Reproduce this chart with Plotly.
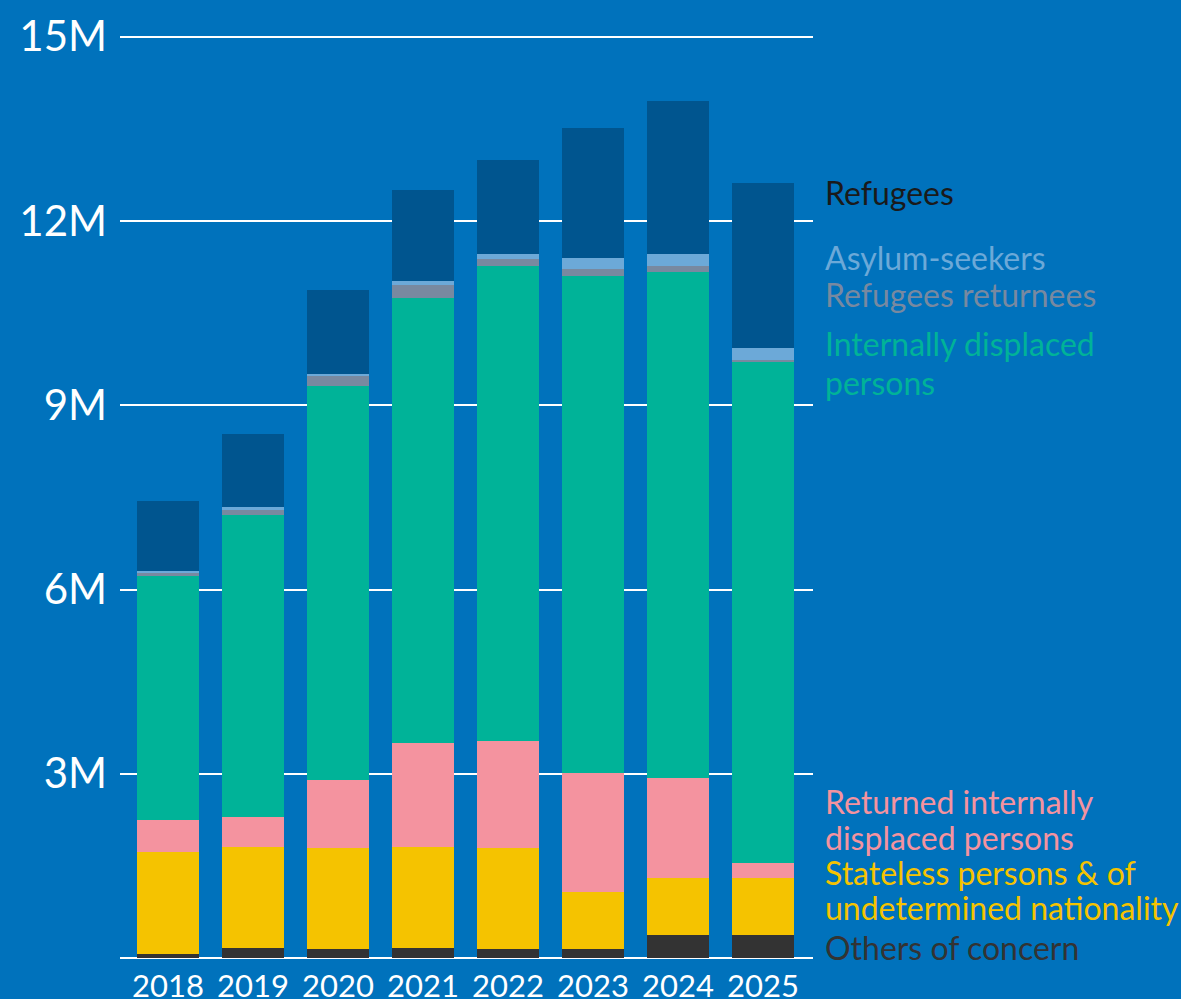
import plotly.graph_objects as go

years = ["2018", "2019", "2020", "2021", "2022", "2023", "2024", "2025"]

others = [0.06, 0.16, 0.14, 0.16, 0.14, 0.14, 0.37, 0.37]
stateless = [1.66, 1.64, 1.65, 1.64, 1.65, 0.93, 0.93, 0.93]
returned_idp = [0.53, 0.50, 1.11, 1.70, 1.75, 1.95, 1.63, 0.24]
idp = [3.97, 4.92, 6.42, 7.25, 7.73, 8.08, 8.24, 8.18]
refugee_returnees = [0.06, 0.07, 0.16, 0.21, 0.11, 0.12, 0.10, 0.01]
asylum_seekers = [0.015, 0.05, 0.03, 0.06, 0.08, 0.18, 0.19, 0.20]
refugees = [1.14, 1.20, 1.37, 1.48, 1.53, 2.11, 2.49, 2.69]

tick_vals = [0, 3, 6, 9, 12, 15]
tick_text = ["", "3M", "6M", "9M", "12M", "15M"]

series = [
    ("Others of concern", others, "#333333"),
    ("Stateless persons & of undetermined nationality", stateless, "#F5C300"),
    ("Returned internally displaced persons", returned_idp, "#F4939F"),
    ("Internally displaced persons", idp, "#00B398"),
    ("Refugees returnees", refugee_returnees, "#7889A0"),
    ("Asylum-seekers", asylum_seekers, "#6CA9D8"),
    ("Refugees", refugees, "#00558F"),
]

fig = go.Figure()
for name, vals, col in series:
    fig.add_trace(go.Bar(x=years, y=vals, name=name, marker=dict(color=col, line=dict(width=0)),
                         width=0.73))

# label lines: (text, y position in data units, colour)
label_lines = [
    ("Refugees", 12.47, "#1A1A1A"),
    ("Asylum-seekers", 11.40, "#6CA9D8"),
    ("Refugees returnees", 10.80, "#7889A0"),
    ("Internally displaced", 10.00, "#00B398"),
    ("persons", 9.37, "#00B398"),
    ("Returned internally", 2.545, "#F4939F"),
    ("displaced persons", 1.96, "#F4939F"),
    ("Stateless persons & of", 1.39, "#F5C300"),
    ("undetermined nationality", 0.825, "#F5C300"),
    ("Others of concern", 0.174, "#333333"),
]
for txt, yv, col in label_lines:
    fig.add_annotation(text=txt, x=1.016, xref="paper", y=yv, yref="y", xanchor="left",
                       yanchor="middle", showarrow=False, align="left", borderpad=0,
                       font=dict(family="Lato", size=32, color=col))

fig.update_layout(
    width=1181, height=999,
    barmode="stack",
    bargap=0.27,
    paper_bgcolor="#0072BC",
    plot_bgcolor="#0072BC",
    showlegend=False,
    margin=dict(l=120, r=368, t=30, b=41, autoexpand=False),
    font=dict(family="Lato", color="white"),
    xaxis=dict(range=[-0.565, 7.588], showgrid=False, showline=False, zeroline=False,
               tickfont=dict(size=31, color="white"), ticks="", ticklabelstandoff=7,
               automargin=False),
    yaxis=dict(range=[0, 15.11], tickvals=tick_vals, ticktext=tick_text, showgrid=True,
               gridcolor="white", gridwidth=2, zeroline=True, zerolinecolor="white",
               zerolinewidth=2, showline=False, tickfont=dict(size=42, color="white"),
               ticks="", ticklabelstandoff=12, automargin=False),
)

fig.write_html("out.html", config={"displayModeBar": False},
               post_script="document.body.style.margin='0';document.body.style.background='#0072BC';")
